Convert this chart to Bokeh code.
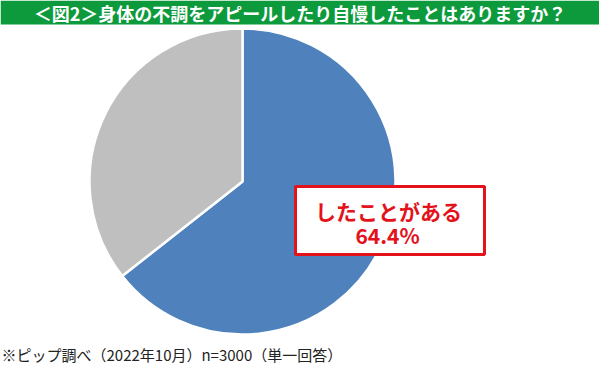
import numpy as np
from bokeh.plotting import figure
from bokeh.models import Range1d, ColumnDataSource
from bokeh.core.properties import value
from bokeh.embed import file_html
from bokeh.resources import INLINE

# ---- data ----
categories = ["したことがある", "したことがない"]
shares = [64.4, 35.6]
colors = ["#4f81bd", "#bfbfbf"]
title_text = "＜図2＞身体の不調をアピールしたり自慢したことはありますか？"
label_lines = ["したことがある", "64.4%"]
footnote = "※ピップ調べ（2022年10月）n=3000（単一回答）"

W, H = 599, 367
FONT = value("Noto Sans CJK JP")

p = figure(width=W, height=H, x_range=Range1d(0, W), y_range=Range1d(0, H),
           x_axis_type=None, y_axis_type=None, toolbar_location=None,
           output_backend="svg", min_border=0, outline_line_color=None,
           background_fill_color="white", border_fill_color="white")
p.grid.visible = False

def Y(ys):
    return H - ys

# green banner
p.quad(left=[0], right=[W], top=[Y(0)], bottom=[Y(24)], fill_color="#0c9a3c", line_color=None)
p.text(x=[W / 2], y=[Y(12)], text=[title_text], text_font=FONT, text_font_size="18px",
       text_font_style="bold", text_color="white", text_align="center", text_baseline="middle")

# pie
frac = np.array(shares) / sum(shares)
ends = np.pi / 2 - 2 * np.pi * np.cumsum(frac)
starts = np.concatenate([[np.pi / 2], ends[:-1]])
src = ColumnDataSource(dict(start=starts, end=ends, color=colors, cat=categories))
p.wedge(x=242, y=Y(181), radius=153, start_angle="start", end_angle="end",
        direction="clock", fill_color="color", line_color="white", line_width=2.5, source=src)

# label box
bx0, bx1, by0, by1 = 295, 484, 186, 254
p.quad(left=[bx0], right=[bx1], top=[Y(by0)], bottom=[Y(by1)], fill_color="white",
       line_color="#e3121b", line_width=3)
p.text(x=[388, 387], y=[Y(210), Y(234)], text=label_lines, text_font=FONT,
       text_font_size="21px", text_font_style="bold", text_color="#e3121b",
       text_align="center", text_baseline="middle")

# footnote
p.text(x=[1], y=[Y(354)], text=[footnote], text_font=FONT, text_font_size="15px",
       text_color="#222222", text_align="left", text_baseline="middle")

open("out.html", "w").write(file_html(p, INLINE))
